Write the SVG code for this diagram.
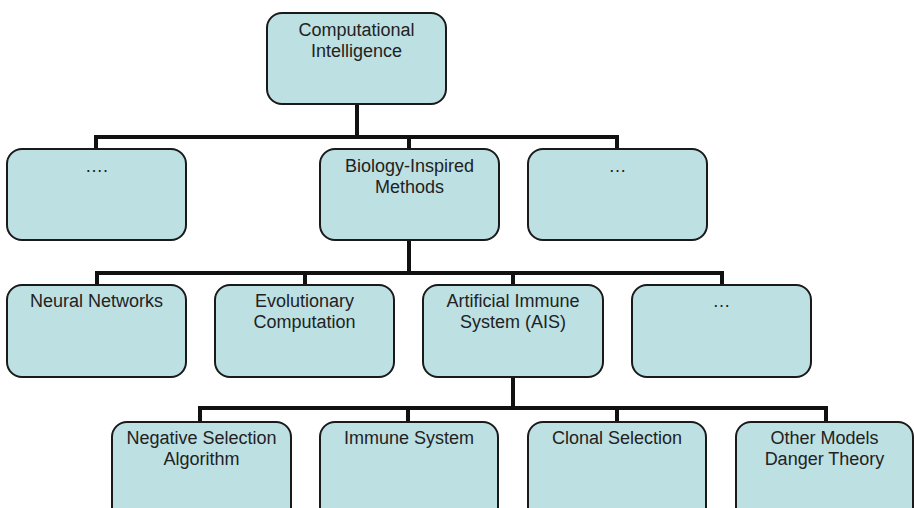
<svg xmlns="http://www.w3.org/2000/svg" width="914" height="508" viewBox="0 0 914 508">
  <style>
    .box { fill: #bde0e3; stroke: #1a1a1a; stroke-width: 2; }
    .lbl { font-family: "Liberation Sans", Arial, sans-serif; font-size: 18px; fill: #222; text-anchor: middle; }
    .wire { stroke: #111; stroke-width: 4; fill: none; stroke-linecap: square; stroke-linejoin: miter; }
  </style>
  <rect width="914" height="508" fill="#ffffff"/>

  <!-- connectors -->
  <g id="connectors">
    <path class="wire" d="M357 104 V137"/>
    <path class="wire" d="M96 149 V137 H617 V149"/>
    <path class="wire" d="M409 137 V149"/>
    <path class="wire" d="M409 240 V273"/>
    <path class="wire" d="M97 285 V273 H722 V285"/>
    <path class="wire" d="M305 273 V285"/>
    <path class="wire" d="M513 273 V285"/>
    <path class="wire" d="M513 377 V408"/>
    <path class="wire" d="M200 422 V408 H826 V422"/>
    <path class="wire" d="M408 408 V422"/>
    <path class="wire" d="M617 408 V422"/>
  </g>

  <!-- level 1 -->
  <g id="computational-intelligence">
    <rect class="box" x="267" y="13" width="179" height="91" rx="15"/>
    <text class="lbl" x="356.5" y="36">Computational</text>
    <text class="lbl" x="356.5" y="57">Intelligence</text>
  </g>

  <!-- level 2 -->
  <g id="other-left">
    <rect class="box" x="7" y="149" width="179" height="91" rx="15"/>
    <text class="lbl" x="96.5" y="172">….</text>
  </g>
  <g id="biology-inspired">
    <rect class="box" x="320" y="149" width="179" height="91" rx="15"/>
    <text class="lbl" x="409.5" y="172">Biology-Inspired</text>
    <text class="lbl" x="409.5" y="193">Methods</text>
  </g>
  <g id="other-right">
    <rect class="box" x="528" y="149" width="179" height="91" rx="15"/>
    <text class="lbl" x="617.5" y="172">…</text>
  </g>

  <!-- level 3 -->
  <g id="neural-networks">
    <rect class="box" x="7" y="285" width="179" height="92" rx="15"/>
    <text class="lbl" x="96.5" y="307">Neural Networks</text>
  </g>
  <g id="evolutionary-computation">
    <rect class="box" x="215" y="285" width="179" height="92" rx="15"/>
    <text class="lbl" x="304.5" y="307">Evolutionary</text>
    <text class="lbl" x="304.5" y="328">Computation</text>
  </g>
  <g id="ais">
    <rect class="box" x="423" y="285" width="180" height="92" rx="15"/>
    <text class="lbl" x="513" y="307">Artificial Immune</text>
    <text class="lbl" x="513" y="328">System (AIS)</text>
  </g>
  <g id="other-bio">
    <rect class="box" x="632" y="285" width="179" height="92" rx="15"/>
    <text class="lbl" x="721.5" y="307">…</text>
  </g>

  <!-- level 4 -->
  <g id="negative-selection">
    <rect class="box" x="112" y="422" width="179" height="100" rx="15"/>
    <text class="lbl" x="201.5" y="444">Negative Selection</text>
    <text class="lbl" x="201.5" y="465">Algorithm</text>
  </g>
  <g id="immune-system">
    <rect class="box" x="320" y="422" width="178" height="100" rx="15"/>
    <text class="lbl" x="409" y="444">Immune System</text>
  </g>
  <g id="clonal-selection">
    <rect class="box" x="528" y="422" width="178" height="100" rx="15"/>
    <text class="lbl" x="617" y="444">Clonal Selection</text>
  </g>
  <g id="other-models">
    <rect class="box" x="736" y="422" width="177" height="100" rx="15"/>
    <text class="lbl" x="824.5" y="444">Other Models</text>
    <text class="lbl" x="824.5" y="465">Danger Theory</text>
  </g>
</svg>
